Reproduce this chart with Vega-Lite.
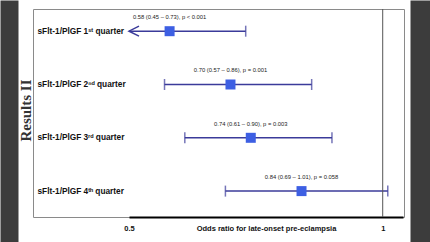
{
  "$schema": "https://vega.github.io/schema/vega-lite/v6.json",
  "autosize": {"type": "none"},
  "width": 371,
  "height": 208,
  "padding": {"left": 33, "top": 9, "right": 26, "bottom": 25},
  "background": "white",
  "config": {
    "view": {"stroke": "#8a8a8a", "strokeWidth": 1, "fill": "white"},
    "font": "Liberation Sans"
  },
  "datasets": {
    "rows": [
      {"group": "sFlt-1/PlGF 1ˢᵗ quarter", "or": 0.58, "lo": 0.45, "hi": 0.73, "label": "0.58 (0.45 – 0.73), p < 0.001"},
      {"group": "sFlt-1/PlGF 2ⁿᵈ quarter", "or": 0.70, "lo": 0.57, "hi": 0.86, "label": "0.70 (0.57 – 0.86), p = 0.001"},
      {"group": "sFlt-1/PlGF 3ʳᵈ quarter", "or": 0.74, "lo": 0.61, "hi": 0.90, "label": "0.74 (0.61 – 0.90), p = 0.003"},
      {"group": "sFlt-1/PlGF 4ᵗʰ quarter", "or": 0.84, "lo": 0.69, "hi": 1.01, "label": "0.84 (0.69 – 1.01), p = 0.058"}
    ],
    "reference": [{"ref": 1}]
  },
  "data": {"name": "rows"},
  "resolve": {"axis": {"y": "independent"}},
  "layer": [
    {
      "mark": {"type": "rule", "color": "#3b3b9a", "strokeWidth": 1.5},
      "encoding": {
        "x": {
          "field": "lo", "type": "quantitative",
          "scale": {"domain": [0.5, 1.04], "range": [96, 370], "nice": false, "zero": false, "clamp": true},
          "axis": {
            "orient": "bottom", "values": [0.5, 1], "format": "~g", "domain": true, "domainColor": "#000000", "domainWidth": 2,
            "ticks": false, "tickSize": 0, "grid": false,
            "labelFlush": false,
            "labelFontSize": 7.5, "labelFontWeight": "bold", "labelColor": "#111111", "labelPadding": 7,
            "title": "Odds ratio for late-onset pre-eclampsia", "titleFontSize": 7.5, "titleFontWeight": "bold",
            "titleColor": "#111111", "titleY": 7, "titleBaseline": "top"
          }
        },
        "x2": {"field": "hi"},
        "y": {
          "field": "group", "type": "nominal", "sort": null,
          "scale": {"type": "point", "range": [-9, 233], "padding": 0.77, "align": 0.38},
          "axis": {
            "orient": "left", "offset": 24, "domain": true, "domainColor": "#3c3c3c", "domainWidth": 18,
            "ticks": false, "tickSize": 0, "grid": false,
            "labelAlign": "left", "labelBaseline": "middle", "labelPadding": -28,
            "labelFontSize": 8.3, "labelFontWeight": "bold", "labelColor": "#111111", "labelFont": "Liberation Sans",
            "title": "Results II", "titleFont": "Liberation Serif", "titleFontSize": 15, "titleFontWeight": "bold",
            "titleColor": "#333333", "titleAngle": -90, "titleX": 16, "titleY": 101,
            "titleAlign": "center", "titleBaseline": "middle"
          }
        }
      }
    },
    {
      "data": {"name": "reference"},
      "mark": {"type": "rule", "color": "#555555", "strokeWidth": 1},
      "encoding": {
        "x": {"field": "ref", "type": "quantitative"}
      }
    },
    {
      "transform": [{"filter": "datum.lo >= 0.5"}],
      "mark": {"type": "tick", "color": "#3b3b9a", "thickness": 1.5, "size": 11, "orient": "vertical"},
      "encoding": {
        "x": {"field": "lo", "type": "quantitative"},
        "y": {"field": "group", "type": "nominal", "sort": null, "axis": null}
      }
    },
    {
      "mark": {"type": "tick", "color": "#3b3b9a", "thickness": 1.5, "size": 11, "orient": "vertical"},
      "encoding": {
        "x": {"field": "hi", "type": "quantitative"},
        "y": {"field": "group", "type": "nominal", "sort": null, "axis": null}
      }
    },
    {
      "transform": [{"filter": "datum.lo < 0.5"}],
      "mark": {"type": "point", "shape": "M2,-1L0,0L2,1", "filled": false, "stroke": "#3b3b9a", "strokeWidth": 1.5, "size": 100, "opacity": 1},
      "encoding": {
        "x": {"field": "lo", "type": "quantitative"},
        "y": {"field": "group", "type": "nominal", "sort": null, "axis": null}
      }
    },
    {
      "mark": {"type": "point", "shape": "square", "filled": true, "color": "#3d5fe3", "size": 100, "opacity": 1},
      "encoding": {
        "x": {"field": "or", "type": "quantitative"},
        "y": {"field": "group", "type": "nominal", "sort": null, "axis": null}
      }
    },
    {
      "mark": {"type": "text", "fontSize": 5.8, "color": "#222222", "dy": -14, "baseline": "middle", "align": "center"},
      "encoding": {
        "x": {"field": "or", "type": "quantitative"},
        "y": {
          "field": "group", "type": "nominal", "sort": null,
          "axis": {
            "orient": "right", "offset": 16, "domain": true, "domainColor": "#3c3c3c", "domainWidth": 20,
            "ticks": false, "labels": false, "grid": false, "title": null
          }
        },
        "text": {"field": "label"}
      }
    }
  ]
}
